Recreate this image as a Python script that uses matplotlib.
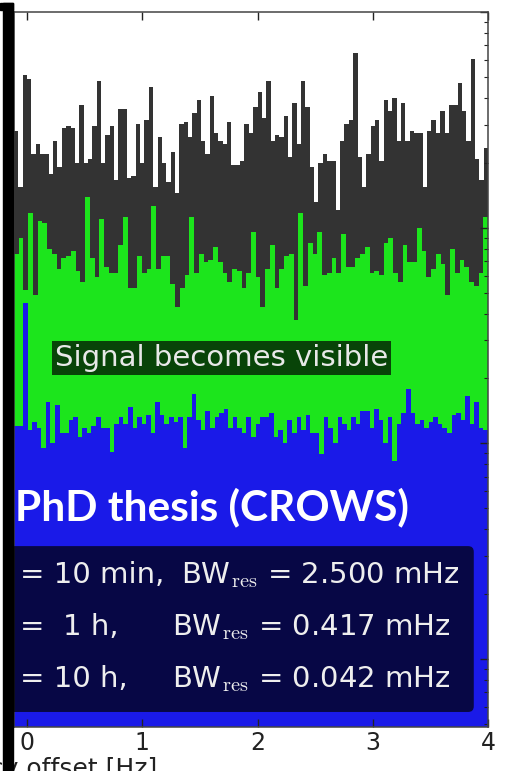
import matplotlib
matplotlib.use("Agg")
import matplotlib.pyplot as plt
import numpy as np
from matplotlib.patches import Rectangle, FancyBboxPatch

plt.rcParams['mathtext.fontset'] = 'cm'
plt.rcParams['font.family'] = ['DejaVu Sans']

# spectrum levels in dB, one value per frequency bin
black_db = [24.5, 21.9, 27.1, 26.9, 23.4, 23.9, 23.4, 23.4, 22.5, 24.0,
            22.8, 24.6, 24.7, 24.6, 23.0, 25.7, 23.0, 23.2, 24.7, 26.8,
            23.0, 24.3, 24.7, 22.2, 25.5, 25.5, 22.3, 22.4, 24.8, 23.0,
            25.0, 26.5, 21.9, 24.2, 23.0, 22.1, 23.5, 21.6, 24.8, 24.9,
            24.2, 25.3, 25.9, 24.0, 23.4, 26.1, 24.4, 24.0, 23.9, 24.9,
            22.9, 22.9, 23.1, 24.8, 24.4, 25.6, 26.3, 25.1, 26.8, 24.0,
            24.3, 24.2, 25.2, 23.3, 25.8, 23.9, 26.8, 25.6, 22.8, 21.2,
            23.0, 23.4, 23.1, 23.1, 20.8, 24.0, 24.8, 25.0, 28.1, 23.3,
            21.9, 23.4, 24.7, 25.0, 23.1, 25.9, 25.4, 26.0, 24.0, 25.8,
            24.0, 24.5, 24.4, 24.4, 21.9, 24.5, 25.0, 24.4, 25.4, 24.4,
            25.7, 25.7, 26.7, 25.4, 24.0, 27.8, 23.2, 22.2, 23.7]

green_db = [18.8, 19.5, 17.1, 20.7, 16.9, 20.3, 20.2, 19.0, 18.8, 18.1,
            18.6, 18.7, 18.9, 18.0, 17.5, 21.4, 18.6, 17.7, 20.4, 18.2,
            17.9, 17.9, 19.2, 20.5, 17.2, 17.2, 18.7, 17.9, 18.1, 21.0,
            18.1, 18.7, 18.7, 17.4, 16.3, 17.2, 17.8, 20.5, 17.9, 18.8,
            18.4, 18.5, 19.1, 18.4, 17.9, 17.5, 18.1, 18.0, 17.2, 17.9,
            19.8, 17.7, 16.3, 18.1, 19.2, 17.2, 18.1, 18.7, 18.8, 15.7,
            20.7, 17.3, 19.3, 18.8, 19.8, 17.8, 17.9, 18.6, 17.9, 19.7,
            18.2, 18.2, 18.6, 18.8, 19.1, 17.9, 18.0, 17.8, 19.3, 19.5,
            17.9, 17.5, 19.2, 18.4, 18.4, 20.0, 18.9, 17.7, 18.1, 18.8,
            18.3, 16.9, 19.0, 17.9, 18.5, 18.2, 17.5, 17.3, 17.9, 20.5]

blue_db = [10.8, 10.8, 16.5, 10.6, 11.0, 10.7, 9.8, 11.9, 10.0, 11.8, 10.5,
           10.5, 11.1, 11.2, 10.3, 10.7, 10.5, 10.8, 11.2, 10.7, 10.7,
           9.6, 10.9, 11.2, 10.9, 11.7, 10.7, 11.2, 10.9, 11.3, 10.5,
           11.9, 11.3, 10.9, 11.2, 11.0, 11.2, 9.8, 11.2, 12.3, 11.1,
           10.6, 11.5, 10.7, 11.2, 11.4, 11.6, 10.7, 11.2, 10.7, 10.5,
           11.2, 10.3, 10.9, 11.2, 11.2, 11.4, 10.3, 10.6, 10.0, 11.1,
           10.5, 11.2, 10.6, 11.3, 10.5, 10.5, 9.5, 11.2, 10.7, 10.0,
           11.2, 10.9, 10.6, 11.2, 10.9, 11.5, 11.5, 10.7, 11.6, 11.1,
           10.0, 11.2, 9.2, 10.9, 11.4, 12.5, 11.4, 10.9, 11.1, 10.7,
           11.0, 11.2, 10.9, 10.7, 10.5, 11.3, 11.4, 11.1, 12.2, 10.9,
           11.9, 10.7, 10.6]

f_min, f_max = -0.113, 4.0
x_ticks = [0, 1, 2, 3, 4]
legend_left = ['= 10 min,', '=  1 h,', '= 10 h,']
legend_right = [r'BW$_\mathrm{res}$ = 2.500 mHz',
                r'BW$_\mathrm{res}$ = 0.417 mHz',
                r'BW$_\mathrm{res}$ = 0.042 mHz']

W, H = 513, 771
fig = plt.figure(figsize=(W / 100, H / 100), dpi=100)
ax = fig.add_axes([14 / W, 44 / H, 474 / W, 715 / H])

floor = 0.1
for vals, col in [(black_db, '#333333'), (green_db, '#1ce51c'), (blue_db, '#1a1ae8')]:
    edges = np.linspace(f_min, f_max, len(vals) + 1)
    ax.stairs(10 ** (np.array(vals) / 10), edges, baseline=floor, fill=True,
              color=col, lw=0)

ax.set_yscale('log')
ax.set_xlim(f_min, f_max)
ax.set_ylim(10 ** -0.315, 1000)
ax.set_xticks(x_ticks)
ax.tick_params(which='both', direction='in', top=True, right=True, left=False,
               labelleft=False, labelsize=17, colors='#222222', pad=3)
ax.tick_params(which='major', length=6, width=1)
ax.tick_params(which='minor', length=3, width=0.8)
for s in ax.spines.values():
    s.set_color('#444444')
    s.set_linewidth(1.1)

ax.text(0.0865, 0.505, 'Signal becomes visible', transform=ax.transAxes,
        fontsize=21, color='#e8e8e8', va='baseline',
        bbox=dict(boxstyle='square,pad=0.1', fc='black', ec='none', alpha=0.7))

# legend box (cut by the left edge)
box = FancyBboxPatch((-0.1, 0.021), 1.07, 0.232, transform=ax.transAxes,
                     boxstyle='round,pad=0,rounding_size=0.012', mutation_aspect=0.66,
                     fc='black', ec='none', alpha=0.7, zorder=5)
ax.add_patch(box)
ys = [0.2014, 0.1287, 0.0559]
xr = [0.352, 0.3333, 0.3333]
for i in range(3):
    ax.text(0.012, ys[i], legend_left[i], transform=ax.transAxes, fontsize=21,
            color='#eeeeee', va='baseline', zorder=6)
    ax.text(xr[i], ys[i], legend_right[i], transform=ax.transAxes, fontsize=21,
            color='#eeeeee', va='baseline', zorder=6)

fig.text(15 / W, 1 - 520 / H, 'PhD thesis (CROWS)', family=['Lato', 'DejaVu Sans'],
         weight='bold', fontsize=30.5, color='white', va='baseline', zorder=8)

fig.text(157 / W, 1 - 757 / H, 'Frequency offset [Hz]', fontsize=18,
         color='#222222', ha='right', va='top')

# slide frame on the left
fig.patches.append(Rectangle((3 / W, 0), 10 / W, 768 / H, transform=fig.transFigure,
                             color='black', zorder=10))
fig.patches.append(Rectangle((0, 761 / H), 13 / W, 7 / H, transform=fig.transFigure,
                             color='black', zorder=10))

fig.savefig('out.png', dpi=100)
